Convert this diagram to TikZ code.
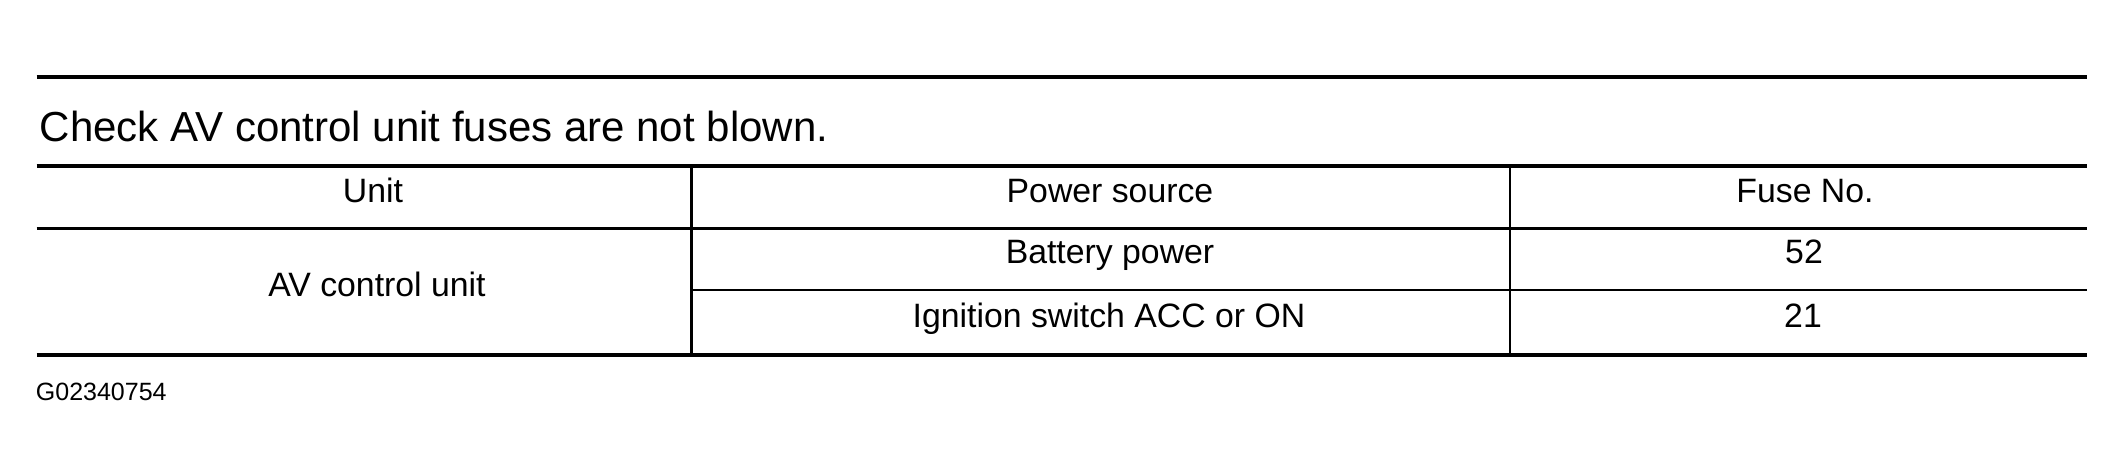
\documentclass[tikz,border=0pt]{standalone}
\usepackage{fontspec}
\setmainfont{Liberation Sans}
\begin{document}
\begin{tikzpicture}[x=0.5pt,y=-0.5pt,
  heavyrule/.style={line width=1.8pt,line cap=butt},
  lightrule/.style={line width=1.25pt,line cap=butt},
  celltext/.style={anchor=base,inner sep=0pt,font=\fontsize{16.9}{20}\selectfont},
  headtext/.style={anchor=base west,inner sep=0pt,font=\fontsize{21}{25}\selectfont},
  idtext/.style={anchor=base west,inner sep=0pt,font=\fontsize{12.5}{15}\selectfont}]
\useasboundingbox[fill=white] (0,0) rectangle (2124,476);
% rules
\draw[heavyrule] (36.7,77) -- (2086.7,77);
\draw[line width=2pt] (36.7,166) -- (2086.7,166);
\draw[lightrule] (36.7,228.5) -- (2086.7,228.5);
\draw[lightrule] (691.7,290) -- (2086.7,290);
\draw[line width=1.9pt] (36.7,354.7) -- (2086.7,354.7);
\draw[lightrule] (691.7,166) -- (691.7,354.7);
\draw[line width=1.1pt] (1510,166) -- (1510,354.7);
% texts
\node[headtext] (title) at (39.5,141) {Check AV control unit fuses are not blown.};
\node[celltext] (hUnit) at (373,202) {Unit};
\node[celltext] (hPower) at (1110,202) {Power source};
\node[celltext] (hFuse) at (1805,202) {Fuse No.};
\node[celltext] (unit) at (377,296) {AV control unit};
\node[celltext] (batt) at (1110,263) {Battery power};
\node[celltext] (ign) at (1109,327) {Ignition switch ACC or ON};
\node[celltext] (f52) at (1804,263) {52};
\node[celltext] (f21) at (1803,327) {21};
\node[idtext] (gid) at (35.5,400) {G02340754};
\end{tikzpicture}
\end{document}
